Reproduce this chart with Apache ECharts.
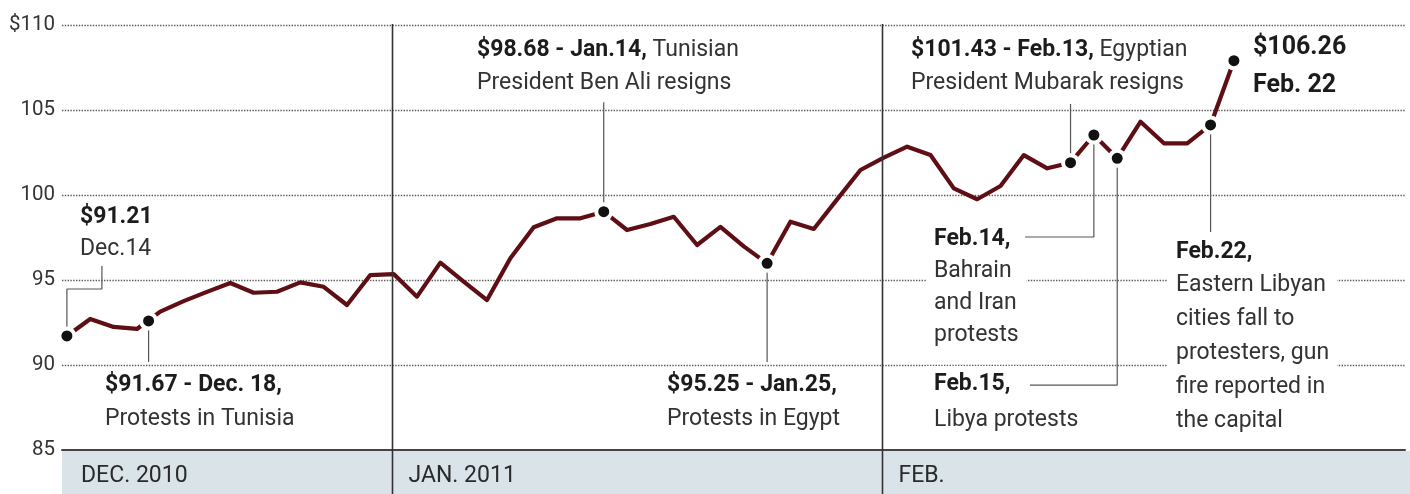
<!DOCTYPE html>
<html><head><meta charset="utf-8">
<script src="https://cdn.jsdelivr.net/npm/echarts@6/dist/echarts.min.js"></script>
<style>html,body{margin:0;padding:0;background:#fff}#c{width:1410px;height:494px}</style>
</head><body><div id="c"></div>
<script>
// Trading days shown on the chart
const dates = ['2010-12-14','2010-12-15','2010-12-16','2010-12-17','2010-12-20','2010-12-21','2010-12-22','2010-12-23','2010-12-24','2010-12-27','2010-12-28','2010-12-29','2010-12-30','2010-12-31',
'2011-01-03','2011-01-04','2011-01-05','2011-01-06','2011-01-07','2011-01-10','2011-01-11','2011-01-12','2011-01-13','2011-01-14','2011-01-17','2011-01-18','2011-01-19','2011-01-20','2011-01-21','2011-01-24','2011-01-25','2011-01-26','2011-01-27','2011-01-28','2011-01-31',
'2011-02-01','2011-02-02','2011-02-03','2011-02-04','2011-02-07','2011-02-08','2011-02-09','2011-02-10','2011-02-11','2011-02-14','2011-02-15','2011-02-16','2011-02-17','2011-02-18','2011-02-21','2011-02-22'];
// Oil price, $ per barrel
const prices = [91.71,92.71,92.24,92.12,93.14,93.76,94.30,94.82,94.25,94.31,
94.86,94.60,93.53,95.29,95.35,94.02,96.02,94.90,93.82,96.28,
98.10,98.63,98.63,99.02,97.94,98.29,98.72,97.06,98.12,96.98,
95.98,98.43,98.00,99.74,101.47,102.20,102.84,102.35,100.39,99.75,
100.53,102.35,101.57,101.90,103.53,102.16,104.31,103.04,103.04,104.12,107.90];
const yTicks = [85,90,95,100,105,110];
const monthLabels = ['DEC. 2010','JAN. 2011','FEB.'];
// Event markers: [trading-day position, price]
const eventDots = [[0,91.71],[3.5,92.59],[23,99.02],[30,95.98],[43,101.90],[44,103.53],[45,102.16],[49,104.12],[50,107.90]];
// Leader lines in data coordinates
const leaders = [
  [[0,91.71],[0,94.47],[1.5,94.47],[1.5,95.82]],
  [[3.5,92.59],[3.5,90.18]],
  [[23,99.02],[23,105.45]],
  [[30,95.98],[30,90.18]],
  [[43,101.90],[43,105.35]],
  [[44,103.53],[44,97.53],[41.05,97.53]],
  [[45,102.16],[45,88.82],[41.26,88.82]],
  [[49,104.12],[49,97.82]]
];

const FONT = 'Roboto, "Open Sans", sans-serif';
const chart = echarts.init(document.getElementById('c'), null, {renderer:'canvas'});
const series = [];
leaders.forEach(l => series.push({type:'line', data:l, symbol:'none', silent:true, z:3,
  lineStyle:{color:'#555', width:1.2}, animation:false}));
series.push({type:'line', data:prices.map((v,i)=>[i,v]), symbol:'none', z:4, animation:false,
  lineStyle:{color:'#5e0f15', width:4.2, join:'round', cap:'round'}});
series.push({type:'scatter', data:eventDots, symbolSize:15, z:5, animation:false,
  itemStyle:{color:'#111', borderColor:'#fff', borderWidth:4, opacity:1}});

chart.setOption({
  animation:false,
  grid:{left:62, right:5, top:25, bottom:44},
  xAxis:{type:'value', min:-0.21, max:57.33, axisLine:{show:true, onZero:false, lineStyle:{color:'#444', width:2}},
    axisTick:{show:false}, axisLabel:{show:false}, splitLine:{show:false}},
  yAxis:{type:'value', min:yTicks[0], max:yTicks[yTicks.length-1], interval:5,
    axisLine:{show:false}, axisTick:{show:false},
    axisLabel:{margin:7, fontSize:20.5, color:'#333', fontFamily:FONT,
      formatter:v => v===yTicks[yTicks.length-1] ? '$'+v : String(v)},
    splitLine:{lineStyle:{color:'#5a5a5a', width:1.4, type:[1.4,1.4]}}},
  series
});

// Month boundaries from the dates
const monthStarts = [0];
for (let i=1;i<dates.length;i++) if (dates[i].slice(0,7)!==dates[i-1].slice(0,7)) monthStarts.push(i);
const px = v => chart.convertToPixel({xAxisIndex:0}, v);
const graphic = [];
graphic.push({type:'rect', z:1, shape:{x:62, y:451, width:1348, height:43}, style:{fill:'#d9e3e8'}});
monthStarts.forEach((idx,k) => {
  let x;
  if (k===0) { x = 62; }
  else {
    x = Math.round(px(idx-0.08)) + 0.5;
    graphic.push({type:'line', z:6, shape:{x1:x, y1:24, x2:x, y2:494}, style:{stroke:'#333', lineWidth:1.6}});
  }
  graphic.push({type:'text', z:6, x:x+(k===0?19:16), y:476, style:{text:monthLabels[k], font:'23px '+FONT, fill:'#2a2a2a', verticalAlign:'middle', align:'left'}});
});

function block(x, top, lh, lines, size) {
  size = size || 23;
  const rich = {
    b:{fontWeight:'bold', fontSize:size, fontFamily:FONT, fill:'#1c1c1c', color:'#1c1c1c', lineHeight:lh},
    n:{fontWeight:'normal', fontSize:size, fontFamily:FONT, fill:'#333', color:'#333', lineHeight:lh}
  };
  graphic.push({type:'text', z:2, x:x-8, y:top, style:{
    text: lines.join('\n'), rich, fontSize:size, fontFamily:FONT, lineHeight:lh,
    verticalAlign:'top', align:'left', backgroundColor:'#fff', padding:[0,8,0,8]}});
}
block(80, 201, 32, ['{b|$91.21}','{n|Dec.14}']);
block(105, 368, 34, ['{b|$91.67 - Dec. 18,}','{n|Protests in Tunisia}']);
block(477, 34, 33, ['{b|$98.68 - Jan.14,}{n| Tunisian}','{n|President Ben Ali resigns}']);
block(667, 368, 34, ['{b|$95.25 - Jan.25,}','{n|Protests in Egypt}']);
block(911, 34, 33, ['{b|$101.43 - Feb.13,}{n| Egyptian}','{n|President Mubarak resigns}']);
block(1253, 29, 38, ['{b|$106.26}','{b|Feb. 22}'], 25);
block(934, 223, 32, ['{b|Feb.14,}','{n|Bahrain}','{n|and Iran}','{n|protests}']);
block(934, 366, 36, ['{b|Feb.15,}','{n|Libya protests}']);
block(1176, 235, 33.8, ['{b|Feb.22,}','{n|Eastern Libyan}','{n|cities fall to}','{n|protesters, gun}','{n|fire reported in}','{n|the capital}']);

chart.setOption({graphic});
</script>
</body></html>
